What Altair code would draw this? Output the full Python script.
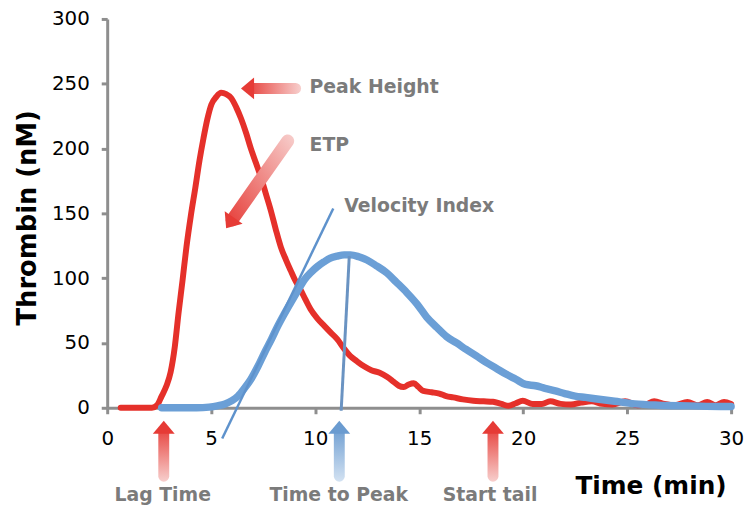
import altair as alt
import pandas as pd

# ---- curve data ----
red_x = [0.65, 1.2, 1.8, 2.15, 2.4, 2.62, 2.85, 3.05, 3.25, 3.43, 3.62, 3.81, 4.02, 4.24, 4.44, 4.63, 4.82, 5.01, 5.25,
         5.48, 5.72, 5.96, 6.2, 6.44, 6.68, 6.91, 7.15, 7.39, 7.63, 7.87, 8.1, 8.35, 8.6, 8.82, 9.05, 9.3, 9.55,
         9.78, 10.1, 10.45, 10.75, 11.06, 11.37, 11.68, 12.0, 12.35, 12.7, 13.1, 13.45, 13.78, 14.02, 14.26, 14.5,
         14.74, 14.97, 15.2, 15.6, 15.97, 16.3, 16.64, 17.1, 17.6, 18.1, 18.55, 18.95, 19.3, 19.65, 19.98, 20.46,
         20.9, 21.3, 21.8, 22.3, 22.8, 23.3, 23.8, 24.3, 24.9, 25.5, 25.9, 26.3, 26.8, 27.3, 27.9, 28.4, 28.85,
         29.25, 29.66, 30.0]
red_y = [0, 0, 0, 0, 2, 9, 17, 27.5, 47, 73, 98, 124, 148, 170, 191, 208, 223, 234, 240,
         243, 242, 239, 232, 223, 212, 200, 189, 178, 165, 152, 138, 124, 114, 106, 98, 91, 83,
         76, 69, 63, 58, 53, 46, 40, 36, 32, 29, 27, 24, 20, 17, 16, 18,
         19, 16, 13, 12, 11, 9, 8, 6.5, 5.4, 5, 4.6, 3, 1.5, 3.5, 5.4, 3,
         3, 5, 3, 2.5, 4, 5, 3, 2.5, 5, 2, 2.5, 5, 3, 2, 4.5, 2, 4.5,
         2, 4.5, 3]

blue_x = [2.62, 3.5, 4.3, 4.9, 5.3, 5.67, 6.0, 6.29, 6.6, 6.91, 7.25, 7.58, 7.9, 8.2, 8.5, 8.82, 9.15, 9.49, 9.8,
          10.11, 10.42, 10.73, 11.05, 11.4, 11.7, 12.1, 12.49, 12.95, 13.45, 13.9, 14.4, 14.9, 15.36, 15.85, 16.31,
          16.8, 17.26, 17.75, 18.22, 18.7, 19.17, 19.65, 20.12, 20.6, 21.05, 21.55, 22.0, 22.5, 23.0, 23.46, 24.4,
          25.37, 26.5, 28.0, 29.5, 30.0]
blue_y = [0, 0, 0, 0.5, 1.5, 3, 5.5, 9, 15, 22, 32, 43, 53, 63, 72, 81, 90, 99, 104.5,
          109, 112.5, 115.5, 117, 118, 118, 116.5, 114, 109.5, 104, 97, 89, 80, 70, 62, 55,
          50, 45, 40, 35, 30.5, 26, 22, 18, 17, 15, 13, 11, 9, 8, 7, 5,
          3, 2, 1.5, 1, 1]

# annotation lines (tangent = Velocity Index, vertical = Time to Peak)
tangent_x = [5.53, 10.87]
tangent_y = [-23.7, 153.8]
ttp_line_x = [11.64, 11.25]
ttp_line_y = [117.0, -2.3]

# arrows: shaft start (tail) / shaft end (near head), head centre, head angle
arrow_names = ["peak", "etp", "lag", "ttp", "tail"]
shaft_x0 = [9.06, 8.68, 2.72, 11.16, 18.55]
shaft_y0 = [246.4, 205.9, -52.8, -52.8, -52.8]
shaft_x1 = [6.90, 6.01, 2.72, 11.16, 18.55]
shaft_y1 = [246.4, 145.0, -17.6, -17.6, -17.6]
head_x = [6.80, 5.93, 2.72, 11.16, 18.55]
head_y = [246.4, 143.3, -15.8, -15.8, -15.8]
head_angle = [270, 215, 0, 0, 0]
arrow_kind = ["red", "red", "red", "blue", "red"]

# texts
top_labels = ["Peak Height", "ETP", "Velocity Index"]
top_x = [9.73, 9.73, 11.4]
top_y = [242.6, 198.2, 150.8]
bottom_labels = ["Lag Time", "Time to Peak", "Start tail"]
bottom_x = [2.67, 11.13, 18.41]
bottom_y = [-71.9, -71.9, -71.9]

x_ticks = [0, 5, 10, 15, 20, 25, 30]
y_ticks = [0, 50, 100, 150, 200, 250, 300]

RED = "#E5302A"
BLUE = "#6B9FD6"
RED_ARROW = "#E63B36"
RED_PALE = "#F7CFCD"
BLUE_ARROW = "#6A9BD0"
BLUE_PALE = "#D3E2F2"
GRAY = "#7B7B7B"
FONT = "DejaVu Sans"

xs = alt.Scale(domain=[0, 30], nice=False, zero=False)
ys = alt.Scale(domain=[0, 300], nice=False, zero=False)

df_red = pd.DataFrame({"t": red_x, "v": red_y})
df_blue = pd.DataFrame({"t": blue_x, "v": blue_y})

x_axis = alt.Axis(values=x_ticks, grid=False, title="Time (min)", titleX=624, titleY=86,
                  titleAlign="right", titleAnchor="end", titleBaseline="alphabetic",
                  titleFontSize=25, titleFont=FONT, titleFontWeight="bold", titleColor="black",
                  labelFontSize=20, labelFont=FONT, labelColor="black", labelPadding=15,
                  domainColor="#8E8E8E", domainWidth=3, tickColor="#8E8E8E", tickWidth=3, tickSize=6,
                  labelFlush=False)
y_axis = alt.Axis(values=y_ticks, grid=False, title="Thrombin (nM)", titleX=-72, titleY=200,
                  titleAngle=-90, titleAlign="center", titleBaseline="alphabetic",
                  titleFontSize=26, titleFont=FONT, titleFontWeight="bold", titleColor="black",
                  labelFontSize=20, labelFont=FONT, labelColor="black", labelPadding=12,
                  domainColor="#8E8E8E", domainWidth=3, tickColor="#8E8E8E", tickWidth=3, tickSize=6)

red_line = alt.Chart(df_red).mark_line(color=RED, strokeWidth=6, strokeCap="round", strokeJoin="round",
                                       interpolate="monotone").encode(
    x=alt.X("t:Q", scale=xs, axis=x_axis),
    y=alt.Y("v:Q", scale=ys, axis=y_axis),
    order="t:Q")

blue_line = alt.Chart(df_blue).mark_line(color=BLUE, strokeWidth=7.5, strokeCap="round", strokeJoin="round",
                                         interpolate="monotone").encode(
    x=alt.X("t:Q", scale=xs), y=alt.Y("v:Q", scale=ys), order="t:Q")

df_tan = pd.DataFrame({"x": [tangent_x[0]], "y": [tangent_y[0]], "x2": [tangent_x[1]], "y2": [tangent_y[1]]})
tangent = alt.Chart(df_tan).mark_rule(color="#5E92CC", strokeWidth=2.5).encode(
    x=alt.X("x:Q", scale=xs), y=alt.Y("y:Q", scale=ys), x2="x2:Q", y2="y2:Q")

df_ttp = pd.DataFrame({"x": [ttp_line_x[0]], "y": [ttp_line_y[0]], "x2": [ttp_line_x[1]], "y2": [ttp_line_y[1]]})
ttp_line = alt.Chart(df_ttp).mark_rule(color="#6A93C2", strokeWidth=3).encode(
    x=alt.X("x:Q", scale=xs), y=alt.Y("y:Q", scale=ys), x2="x2:Q", y2="y2:Q")


def grad(c0, c1, x1, y1, x2, y2):
    return alt.LinearGradient(gradient="linear",
                              stops=[alt.GradientStop(color=c0, offset=0),
                                     alt.GradientStop(color=c1, offset=1)],
                              x1=x1, y1=y1, x2=x2, y2=y2)


gradients = {
    "peak": grad(RED_ARROW, RED_PALE, 0, 0, 1, 0),
    "etp": grad(RED_ARROW, RED_PALE, 0, 1, 1, 0),
    "lag": grad(RED_ARROW, RED_PALE, 0, 0, 0, 1),
    "ttp": grad(BLUE_ARROW, BLUE_PALE, 0, 0, 0, 1),
    "tail": grad(RED_ARROW, RED_PALE, 0, 0, 0, 1),
}
widths = {"peak": 11, "etp": 13, "lag": 11, "ttp": 11, "tail": 11}

shafts = []
for i, name in enumerate(arrow_names):
    d = pd.DataFrame({"x": [shaft_x1[i], shaft_x0[i]], "y": [shaft_y1[i], shaft_y0[i]], "o": [0, 1]})
    shafts.append(alt.Chart(d).mark_trail(color=gradients[name]).encode(
        x=alt.X("x:Q", scale=xs), y=alt.Y("y:Q", scale=ys), order="o:Q",
        size=alt.value(widths[name])))

df_heads = pd.DataFrame({"x": head_x, "y": head_y, "a": head_angle,
                         "c": [RED_ARROW if k == "red" else BLUE_ARROW for k in arrow_kind]})
heads = alt.Chart(df_heads).mark_point(shape="M0,-0.7L1,0.5L-1,0.5Z", filled=True, size=484,
                                       opacity=1, strokeWidth=0).encode(
    x=alt.X("x:Q", scale=xs), y=alt.Y("y:Q", scale=ys),
    angle=alt.Angle("a:Q", scale=None), color=alt.Color("c:N", scale=None))

df_top = pd.DataFrame({"x": top_x, "y": top_y, "t": top_labels})
top_text = alt.Chart(df_top).mark_text(align="left", baseline="alphabetic", font=FONT, fontSize=19,
                                       fontWeight="bold", color=GRAY).encode(
    x=alt.X("x:Q", scale=xs), y=alt.Y("y:Q", scale=ys), text="t:N")

df_bot = pd.DataFrame({"x": bottom_x, "y": bottom_y, "t": bottom_labels})
bot_text = alt.Chart(df_bot).mark_text(align="center", baseline="alphabetic", font=FONT, fontSize=19,
                                       fontWeight="bold", color=GRAY).encode(
    x=alt.X("x:Q", scale=xs), y=alt.Y("y:Q", scale=ys), text="t:N")

chart = alt.layer(red_line, blue_line, tangent, ttp_line, *shafts, heads, top_text, bot_text).properties(
    width=629, height=392,
    autosize=alt.AutoSizeParams(type="none"),
    padding={"left": 100, "top": 9, "right": 14, "bottom": 101},
    background="white",
).configure_view(stroke=None)

chart.save("out.html", embed_options={"renderer": "svg", "actions": False})
